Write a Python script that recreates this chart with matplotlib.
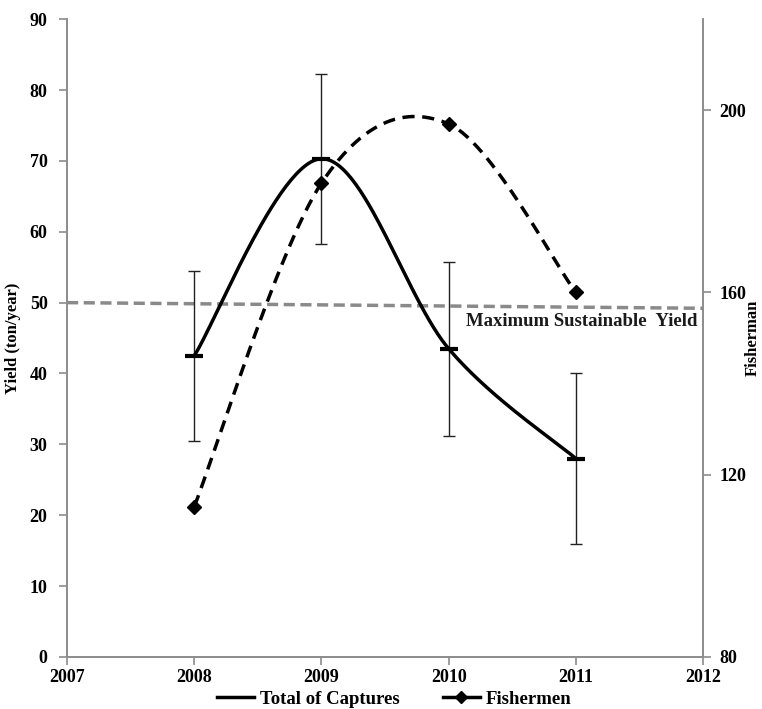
import numpy as np
import matplotlib
matplotlib.use("Agg")
import matplotlib.pyplot as plt
from matplotlib.lines import Line2D

# Data
years = [2008, 2009, 2010, 2011]
captures = [42.5, 70.3, 43.5, 28.0]          # ton/year, left axis
captures_err = [12.0, 12.0, 12.3, 12.0]
fishermen = [113, 184, 197, 160]             # right axis
msy_start, msy_end = 50.0, 49.2              # Maximum Sustainable Yield line (2007 -> 2012)

x_ticks = [2007, 2008, 2009, 2010, 2011, 2012]
yield_ticks = list(range(0, 91, 10))
fisher_ticks = [80, 120, 160, 200]

FONT = "Liberation Serif"
plt.rcParams["font.family"] = [FONT, "DejaVu Serif"]
plt.rcParams["font.weight"] = "bold"


def smooth(xs, ys, n=60):
    """
    Excel-like smoothed line: Catmull-Rom control points joined by cubic Bezier segments.
    """
    pts = np.column_stack([xs, ys]).astype(float)
    padded = np.vstack([pts[0], pts, pts[-1]])
    out = []
    t = np.linspace(0, 1, n)[:, None]
    for i in range(len(pts) - 1):
        p0, p1, p2, p3 = padded[i], padded[i + 1], padded[i + 2], padded[i + 3]
        c1 = p1 + (p2 - p0) / 6.0
        c2 = p2 - (p3 - p1) / 6.0
        seg = ((1 - t) ** 3) * p1 + 3 * ((1 - t) ** 2) * t * c1 \
            + 3 * (1 - t) * t ** 2 * c2 + t ** 3 * p2
        out.append(seg if i == 0 else seg[1:])
    curve = np.vstack(out)
    return curve[:, 0], curve[:, 1]


fig = plt.figure(figsize=(7.62, 7.09), dpi=100)
ax = fig.add_axes([0.088, 0.0734, 0.8346, 0.8996])
ax2 = ax.twinx()

axis_color = "#8c8c8c"

# MSY reference line
ax.plot([x_ticks[0], x_ticks[-1]], [msy_start, msy_end], color="#8a8a8a",
        linestyle=(0, (3.2, 1.6)), linewidth=2.5, zorder=1)
ax.text(2011.96, 47.4, "Maximum Sustainable  Yield", ha="right", va="center",
        fontsize=13.5, fontweight="bold", color="#1a1a1a")

# Total of captures
cx, cy = smooth(years, captures)
ax.plot(cx, cy, color="black", linewidth=2.5, zorder=3)
ax.errorbar(years, captures, yerr=captures_err, fmt="none", ecolor="#222222",
            elinewidth=1.0, capsize=4, capthick=1.0, zorder=2)
ax.plot(years, captures, linestyle="none", marker="_", markersize=13,
        markeredgewidth=3, color="black", zorder=4)

# Fishermen
fx, fy = smooth(years, fishermen)
ax2.plot(fx, fy, color="black", linewidth=2.5, linestyle=(0, (3.5, 2.2)), zorder=3)
ax2.plot(years, fishermen, linestyle="none", marker="D", markersize=7,
         color="black", zorder=4)

# Axes styling
ax.set_xlim(x_ticks[0], x_ticks[-1])
ax.set_ylim(0, 90)
ax.set_xticks(x_ticks)
ax.set_yticks(yield_ticks)
ax2.set_ylim(80, 220)
ax2.set_yticks(fisher_ticks)

for a in (ax, ax2):
    a.spines["top"].set_visible(False)
    for side in ("left", "right", "bottom"):
        a.spines[side].set_color(axis_color)
        a.spines[side].set_linewidth(1.2)
    a.tick_params(colors=axis_color, labelcolor="black", length=6, width=1.2,
                  labelsize=13, direction="out")
    for lab in a.get_xticklabels() + a.get_yticklabels():
        lab.set_fontweight("bold")

ax.tick_params(axis="y", pad=8)
ax2.tick_params(axis="y", pad=6)
ax.tick_params(axis="x", pad=3)

ax.set_ylabel("Yield (ton/year)", fontsize=12, fontweight="bold", labelpad=6)
ax2.set_ylabel("Fisherman", fontsize=12, fontweight="bold")
ax2.yaxis.set_label_coords(1.066, 0.5)

handles = [
    Line2D([], [], color="black", linewidth=2.5),
    Line2D([], [], color="black", linewidth=2.5, marker="D", markersize=6),
]
ax.legend(handles, ["Total of Captures", "Fishermen"], loc="upper center",
          bbox_to_anchor=(0.514, -0.041), ncol=2, frameon=False,
          prop={"family": FONT, "weight": "bold", "size": 13.5},
          handlelength=2.0, columnspacing=2.3, handletextpad=0.3,
          borderaxespad=0)

fig.savefig("out.png", dpi=100)
